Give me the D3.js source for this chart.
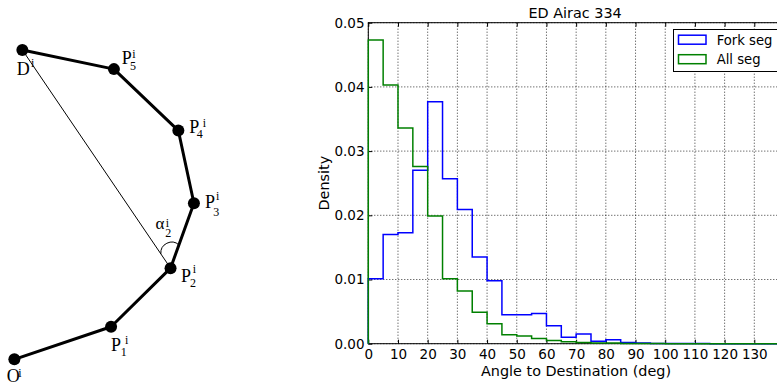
<!DOCTYPE html>
<html>
<head>
<meta charset="utf-8">
<script src="https://cdn.jsdelivr.net/npm/d3@7"></script>
<style>
  html, body { margin: 0; padding: 0; background: #fff; }
  svg { display: block; }
  .tick text { font-family: "DejaVu Sans", sans-serif; font-size: 13.5px; fill: #000; }
</style>
</head>
<body>
<svg id="fig" width="777" height="385"></svg>
<script>
// ---- Histogram data: density per 5-degree bin, 0..140 deg ----
const binWidth = 5;
const binStarts = d3.range(0, 140, binWidth);
const forkSeg = [0.0101, 0.0170, 0.0173, 0.0270, 0.0377, 0.0257, 0.0209, 0.0135,
                 0.0098, 0.0045, 0.0045, 0.0047, 0.0028, 0.0010, 0.0015, 0.0004,
                 0.0006, 0.0002, 0.0001, 0.00005, 0.00003, 0.00002, 0.00002, 0.00001,
                 0.00001, 0.00001, 0, 0];
const allSeg = [0.0473, 0.0403, 0.0336, 0.0276, 0.0199, 0.0101, 0.0082, 0.0049,
                0.0031, 0.0014, 0.0012, 0.0008, 0.0005, 0.0003, 0.0002, 0.0001,
                0.0001, 0.00005, 0.00003, 0.00002, 0.00001, 0.00001, 0, 0,
                0, 0, 0, 0];
const seriesNames = ["Fork seg", "All seg"];
const seriesColors = ["#0000ff", "#008000"];
const xTicks = d3.range(0, 140, 10);
const yTicks = [0, 0.01, 0.02, 0.03, 0.04, 0.05];

// ---- Trajectory sketch: O, P1..P5, D in sketch units (0..100) ----
const pathNames = ["O", "P1", "P2", "P3", "P4", "P5", "D"];
const pathX = [2.3, 53.2, 84.5, 96.8, 88.6, 54.7, 6.5];
const pathY = [0.2, 10.4, 28.7, 49.0, 71.7, 90.9, 96.9];

const svg = d3.select("#fig");

// ================= Left: trajectory sketch =================
const sx = d3.scaleLinear().domain([0, 100]).range([10, 200]);
const sy = d3.scaleLinear().domain([0, 100]).range([360, 40]);
const pts = pathNames.map((n, i) => ({ name: n, x: sx(pathX[i]), y: sy(pathY[i]) }));
const byName = Object.fromEntries(pts.map(p => [p.name, p]));
const sketch = svg.append("g");

// thin chord from destination to P2
sketch.append("line")
  .attr("x1", byName.D.x).attr("y1", byName.D.y)
  .attr("x2", byName.P2.x).attr("y2", byName.P2.y)
  .attr("stroke", "#000").attr("stroke-width", 1);

// polyline of the route
sketch.append("path")
  .attr("d", d3.line().x(d => d.x).y(d => d.y)(pts))
  .attr("fill", "none").attr("stroke", "#000").attr("stroke-width", 3)
  .attr("stroke-linejoin", "round");

// angle arc at P2 between chord and next leg
(function () {
  const p2 = byName.P2, p3 = byName.P3, d = byName.D;
  const ya = p2.y - 14.3, yc = p2.y - 23.3;
  const xa = p2.x + (d.x - p2.x) * (ya - p2.y) / (d.y - p2.y);
  const xc = p2.x + (p3.x - p2.x) * (yc - p2.y) / (p3.y - p2.y);
  sketch.append("path")
    .attr("d", `M${xa},${ya} A10.9,10.9 0 0 1 ${xc},${yc}`)
    .attr("fill", "none").attr("stroke", "#000").attr("stroke-width", 1);
})();

sketch.selectAll("circle.node").data(pts).join("circle")
  .attr("class", "node")
  .attr("cx", d => d.x).attr("cy", d => d.y).attr("r", 6)
  .attr("fill", "#000");

// labels: main glyph, subscript, superscript
const labels = [
  { at: "D",  main: "D", sub: null, sup: "i", m: [-5.6, 25],  s: null,       u: [14.3, -8.3] },
  { at: "P5", main: "P", sub: "5",  sup: "i", m: [7.7, -5],   s: [8.3, 6],   u: [10.6, -6] },
  { at: "P4", main: "P", sub: "4",  sup: "i", m: [11, 2.6],   s: [7.4, 5],   u: [13.4, -6.3] },
  { at: "P3", main: "P", sub: "3",  sup: "i", m: [11, 5],     s: [8.3, 7.4], u: [11, -8.3] },
  { at: "P2", main: "P", sub: "2",  sup: "i", m: [10.5, 13.4],s: [9, 5],     u: [11.7, -8.7] },
  { at: "P1", main: "P", sub: "1",  sup: "i", m: [0, 24],     s: [9.7, 5],   u: [14, -6.7] },
  { at: "O",  main: "O", sub: null, sup: "i", m: [-7.6, 22.6],s: null,       u: [11.6, -5.3] },
  { at: "P2", main: "\u03b1", sub: "2", sup: "i", m: [-15, -39], s: [9.8, 7.4], u: [10.2, -2.3] }
];
const serif = "'Liberation Serif', 'DejaVu Serif', serif";
labels.forEach(l => {
  const p = byName[l.at];
  const bx = p.x + l.m[0], by = p.y + l.m[1];
  sketch.append("text").attr("x", bx).attr("y", by).attr("fill", "#000")
    .attr("font-family", serif).attr("font-size", l.main === "\u03b1" ? 17 : 18).text(l.main);
  if (l.sub) sketch.append("text").attr("x", bx + l.s[0]).attr("y", by + l.s[1])
    .attr("fill", "#000").attr("font-family", serif).attr("font-size", 12).text(l.sub);
  if (l.sup) sketch.append("text").attr("x", bx + l.u[0]).attr("y", by + l.u[1])
    .attr("fill", "#000").attr("font-family", serif).attr("font-size", 12).text(l.sup);
});

// ================= Right: step histogram =================
const m = { left: 368.3, right: 784, top: 22.7, bottom: 343.7 };
const W = m.right - m.left, H = m.bottom - m.top;
const x = d3.scaleLinear().domain([0, 140]).range([m.left, m.right]);
const y = d3.scaleLinear().domain([0, 0.05]).range([m.bottom, m.top]);
const sans = "'DejaVu Sans', sans-serif";

// dotted grid
const grid = svg.append("g");
grid.selectAll("line.gx").data(xTicks).join("line")
  .attr("x1", d => x(d)).attr("x2", d => x(d)).attr("y1", m.top).attr("y2", m.bottom)
  .attr("stroke", "#000").attr("stroke-width", 0.8).attr("stroke-dasharray", "1,2");
grid.selectAll("line.gy").data(yTicks).join("line")
  .attr("y1", d => y(d)).attr("y2", d => y(d)).attr("x1", m.left).attr("x2", m.right)
  .attr("stroke", "#000").attr("stroke-width", 0.8).attr("stroke-dasharray", "1,2");

// frame
svg.append("rect").attr("x", m.left).attr("y", m.top).attr("width", W).attr("height", H)
  .attr("fill", "none").attr("stroke", "#000").attr("stroke-width", 1);

// ticks (inside, matplotlib-classic style)
const xAxisB = svg.append("g").attr("transform", `translate(0,${m.bottom})`)
  .call(d3.axisBottom(x).tickValues(xTicks).tickSizeInner(-4).tickSizeOuter(0).tickPadding(5.6)
    .tickFormat(d3.format("d")));
xAxisB.select(".domain").remove();
const xAxisT = svg.append("g").attr("transform", `translate(0,${m.top})`)
  .call(d3.axisTop(x).tickValues(xTicks).tickSizeInner(-4).tickSizeOuter(0).tickFormat(""));
xAxisT.select(".domain").remove();
const yAxisL = svg.append("g").attr("transform", `translate(${m.left},0)`)
  .call(d3.axisLeft(y).tickValues(yTicks).tickSizeInner(-4).tickSizeOuter(0).tickPadding(3.8)
    .tickFormat(d3.format(".2f")));
yAxisL.select(".domain").remove();
svg.selectAll(".tick line").attr("stroke", "#000");

// histogram outlines
svg.append("clipPath").attr("id", "plotClip").append("rect")
  .attr("x", m.left - 1.5).attr("y", m.top - 1.5).attr("width", W + 3).attr("height", H + 3);
const stepLine = d3.line().x(d => x(d[0])).y(d => y(d[1])).curve(d3.curveStepAfter);
function outline(vals) {
  const ptsH = [[0, 0]];
  vals.forEach((v, i) => ptsH.push([binStarts[i], v]));
  ptsH.push([binStarts[binStarts.length - 1] + binWidth, 0]);
  return ptsH;
}
const plotG = svg.append("g").attr("clip-path", "url(#plotClip)");
[forkSeg, allSeg].forEach((vals, i) => {
  plotG.append("path").attr("d", stepLine(outline(vals)))
    .attr("fill", "none").attr("stroke", seriesColors[i]).attr("stroke-width", 1.5);
});

// title and axis labels
svg.append("text").attr("x", (m.left + m.right) / 2 - 1).attr("y", 17.7)
  .attr("text-anchor", "middle").attr("font-family", sans).attr("font-size", 14.4)
  .text("ED Airac 334");
svg.append("text").attr("x", 576).attr("y", 376)
  .attr("text-anchor", "middle").attr("font-family", sans).attr("font-size", 14.4)
  .text("Angle to Destination (deg)");
svg.append("text").attr("transform", `translate(329,${(m.top + m.bottom) / 2}) rotate(-90)`)
  .attr("text-anchor", "middle").attr("font-family", sans).attr("font-size", 14.4)
  .text("Density");

// legend
const lg = svg.append("g");
lg.append("rect").attr("x", 673.5).attr("y", 29.5).attr("width", 104).attr("height", 42)
  .attr("fill", "#fff").attr("stroke", "#000").attr("stroke-width", 1);
seriesNames.forEach((n, i) => {
  const cy = 39.7 + i * 19.5;
  lg.append("rect").attr("x", 678.5).attr("y", cy - 4.5).attr("width", 27.5).attr("height", 9)
    .attr("fill", "#fff").attr("stroke", seriesColors[i]).attr("stroke-width", 1.5);
  lg.append("text").attr("x", 716.7).attr("y", cy + 5.2)
    .attr("font-family", sans).attr("font-size", 13.2).text(n);
});
</script>
</body>
</html>
